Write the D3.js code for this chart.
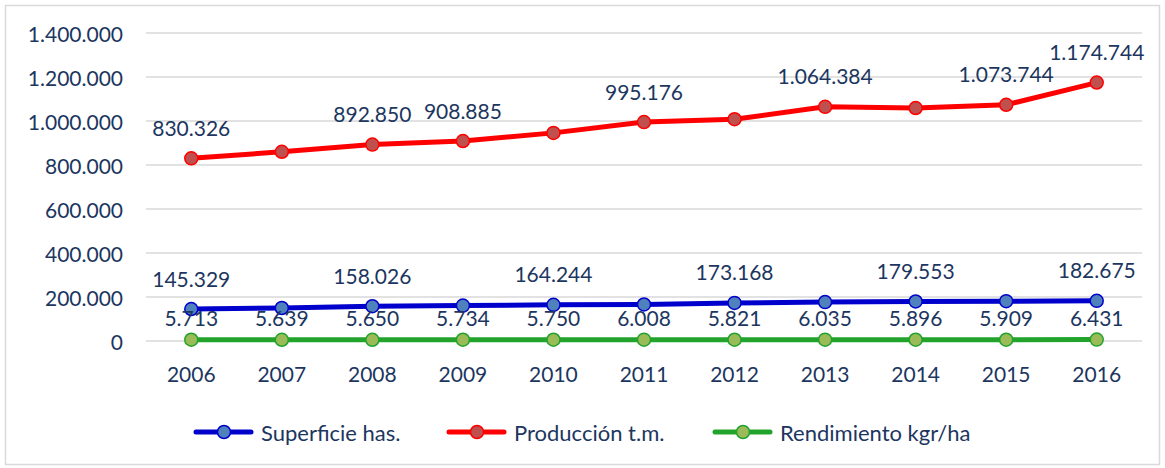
<!DOCTYPE html>
<html>
<head>
  <style>
    body { margin: 0; background: #fff; }
    text { font-family: Lato, "Open Sans", sans-serif; fill: #1c3660; }
    .grid line { stroke: #d9d9d9; stroke-width: 1.5px; }
    .series-line { fill: none; stroke-width: 5px; stroke-linejoin: round; }
  </style>
</head>
<body>
  <svg id="chart" width="1165" height="468"></svg>

  <script src="https://d3js.org/d3.v7.min.js"></script>
  <script>
    const years = ["2006", "2007", "2008", "2009", "2010", "2011", "2012", "2013", "2014", "2015", "2016"];
    const superficie = [145329, 150000, 158026, 161000, 164244, 166000, 173168, 177000, 179553, 181000, 182675];
    const produccion = [830326, 860000, 892850, 908885, 946000, 995176, 1008000, 1064384, 1059000, 1073744, 1174744];
    const rendimiento = [5713, 5639, 5650, 5734, 5750, 6008, 5821, 6035, 5896, 5909, 6431];
    // which points carry a data label in the original
    const superficieLabeled = [1, 0, 1, 0, 1, 0, 1, 0, 1, 0, 1];
    const produccionLabeled = [1, 0, 1, 1, 0, 1, 0, 1, 0, 1, 1];
    const rendimientoLabeled = [1, 1, 1, 1, 1, 1, 1, 1, 1, 1, 1];
    const yTicks = [0, 200000, 400000, 600000, 800000, 1000000, 1200000, 1400000];

    const es = d3.formatLocale({ decimal: ",", thousands: ".", grouping: [3], currency: ["", "€"] });
    const fmt = es.format(",d");

    const series = [
      { name: "Superficie has.", values: superficie, labeled: superficieLabeled, line: "#0000cc", fill: "#4f81bd", dy: -31 },
      { name: "Producción t.m.", values: produccion, labeled: produccionLabeled, line: "#ff0000", fill: "#c0504d", dy: -31 },
      { name: "Rendimiento kgr/ha", values: rendimiento, labeled: rendimientoLabeled, line: "#22a32c", fill: "#9bbb59", dy: -22 }
    ];

    const svg = d3.select("#chart");

    // chart frame
    svg.append("rect")
       .attr("x", 5.5).attr("y", 5.5)
       .attr("width", 1154).attr("height", 459)
       .attr("fill", "#fff")
       .attr("stroke", "#d9d9d9")
       .attr("stroke-width", 1.5);

    const x = d3.scaleBand().domain(years).range([146, 1142]);
    const y = d3.scaleLinear().domain([0, 1400000]).range([341, 33]);
    const cx = d => x(d) + x.bandwidth() / 2;

    // gridlines
    svg.append("g").attr("class", "grid")
       .selectAll("line")
       .data(yTicks)
       .enter().append("line")
       .attr("x1", 146).attr("x2", 1142)
       .attr("y1", d => y(d)).attr("y2", d => y(d));

    // y tick labels
    svg.append("g")
       .selectAll("text")
       .data(yTicks)
       .enter().append("text")
       .attr("x", 123)
       .attr("y", d => y(d))
       .attr("text-anchor", "end")
       .attr("dominant-baseline", "central")
       .style("font-size", "21px")
       .text(d => fmt(d));

    // x tick labels
    svg.append("g")
       .selectAll("text")
       .data(years)
       .enter().append("text")
       .attr("x", d => cx(d))
       .attr("y", 373)
       .attr("text-anchor", "middle")
       .attr("dominant-baseline", "central")
       .style("font-size", "21px")
       .text(d => d);

    const line = d3.line()
                   .x((d, i) => cx(years[i]))
                   .y(d => y(d));

    series.forEach(s => {
      svg.append("path")
         .attr("class", "series-line")
         .attr("stroke", s.line)
         .attr("d", line(s.values));

      svg.append("g")
         .selectAll("circle")
         .data(s.values)
         .enter().append("circle")
         .attr("cx", (d, i) => cx(years[i]))
         .attr("cy", d => y(d))
         .attr("r", 6.5)
         .attr("fill", s.fill)
         .attr("stroke", s.line)
         .attr("stroke-width", 1.5);
    });

    // data labels on top
    series.forEach(s => {
      svg.append("g")
         .selectAll("text")
         .data(s.values.map((v, i) => ({ v, i })).filter(d => s.labeled[d.i]))
         .enter().append("text")
         .attr("x", d => cx(years[d.i]))
         .attr("y", d => y(d.v) + s.dy)
         .attr("text-anchor", "middle")
         .attr("dominant-baseline", "central")
         .style("font-size", "21px")
         .text(d => fmt(d.v));
    });

    // legend
    const legendX = [196, 449, 715];
    const legend = svg.append("g")
                      .selectAll("g")
                      .data(series)
                      .enter().append("g")
                      .attr("transform", (d, i) => `translate(${legendX[i]}, 432)`);

    legend.append("line")
          .attr("x1", 0).attr("x2", 55)
          .attr("stroke", d => d.line)
          .attr("stroke-width", 5)
          .attr("stroke-linecap", "round");

    legend.append("circle")
          .attr("cx", 28).attr("r", 6.5)
          .attr("fill", d => d.fill)
          .attr("stroke", d => d.line)
          .attr("stroke-width", 1.5);

    legend.append("text")
          .attr("x", 65)
          .attr("dominant-baseline", "central")
          .style("font-size", "22px")
          .text(d => d.name);
  </script>
</body>
</html>
